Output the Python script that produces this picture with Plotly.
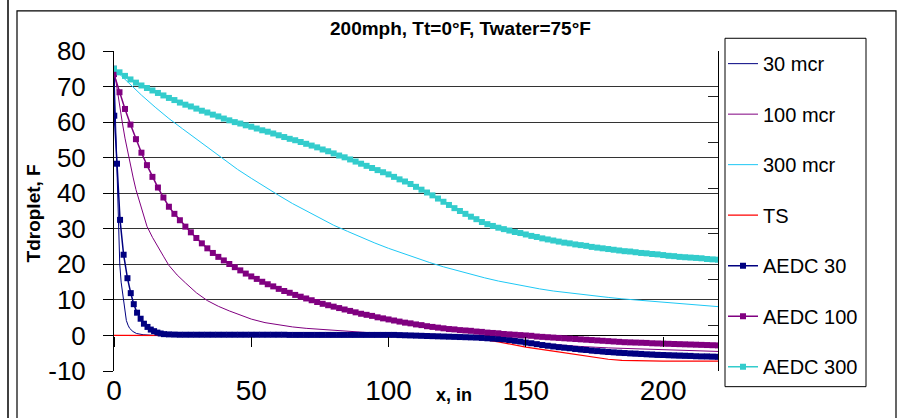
import plotly.graph_objects as go

# ---------------- data ----------------
SERIES_NAMES = ["30 mcr", "100 mcr", "300 mcr", "TS", "AEDC 30", "AEDC 100", "AEDC 300"]

x_30 = [0, 0.3, 0.5, 0.8, 1.1, 1.5, 2.1, 2.6, 3.3, 3.9, 4.5, 5.1, 5.7, 6.9, 8.2, 10.6, 14, 20,
        40, 60, 80, 100, 110, 120, 130, 140, 150, 160, 170, 180, 190, 200, 210, 220]
y_30 = [75, 67, 60, 50, 40, 30, 20, 15, 10.5, 6.5, 4.2, 2.9, 2.0, 1.1, 0.55, 0.2, 0.05, 0.0,
        0.0, 0.0, 0.0, 0.0, -0.1, -0.3, -0.7, -1.5, -2.6, -3.7, -4.6, -5.3, -5.8, -6.2, -6.4, -6.6]

x_100 = [0, 1, 2, 3, 4, 5, 6, 7, 8, 10, 12, 14, 16, 18, 20, 23, 26, 30, 34, 38, 42, 46, 50,
         55, 60, 65, 70, 75, 80, 85, 90, 95, 100, 110, 120, 130, 140, 150, 160, 170, 180,
         190, 200, 210, 220]
y_100 = [75, 69.5, 64.5, 60, 55.5, 51.5, 47.8, 44.3, 41, 35.5, 30.7, 27.6, 24.8, 22.3, 19.7,
         17.0, 14.8, 12.0, 9.8, 8.2, 6.9, 5.8, 4.6, 3.6, 2.9, 2.4, 2.0, 1.7, 1.4, 1.1, 0.8,
         0.6, 0.4, 0.05, -0.3, -0.8, -1.4, -2.0, -2.6, -3.1, -3.5, -3.8, -4.1, -4.3, -4.5]

x_300 = [0, 5, 10, 15, 20, 25, 30, 35, 40, 45, 50, 55, 60, 65, 70, 75, 80, 85, 90, 95, 100,
         105, 110, 115, 120, 125, 130, 135, 140, 145, 150, 155, 160, 165, 170, 175, 180, 185,
         190, 195, 200, 205, 210, 215, 220]
y_300 = [75, 71.2, 67.6, 64.2, 61, 58.1, 55.2, 52.3, 49.4, 46.7, 44.2, 41.7, 39.4, 37.1, 35,
         33, 31, 29.3, 27.6, 26.0, 24.5, 23.1, 21.8, 20.5, 19.3, 18.2, 17.2, 16.2, 15.3, 14.5,
         13.8, 13.1, 12.5, 12.0, 11.5, 11.1, 10.7, 10.3, 10.0, 9.7, 9.3, 9.0, 8.7, 8.4, 8.1]

x_ts = [0, 100, 110, 120, 130, 140, 150, 160, 170, 175, 180, 185, 190, 200, 210, 220]
y_ts = [0, 0, -0.1, -0.3, -0.6, -1.8, -3.3, -4.4, -5.5, -6.2, -6.7, -7.0, -7.1, -7.2, -7.2, -7.2]

# AEDC 30: early, individually read markers, then a 2-inch sampling from x=20
aedc30_x_early = [0, 0.1, 1.1, 2.2, 3.5, 4.9, 6.1, 7.2, 8.4, 9.7, 10.9, 12.2, 13.4, 14.6, 15.8, 17.0, 18.2]
aedc30_y_early = [75, 61.8, 48.3, 32.5, 22.7, 16.1, 11.9, 8.8, 6.4, 4.7, 3.3, 2.4, 1.65, 1.2, 0.8, 0.55, 0.37]
aedc30_y_late = [0.3, 0.25, 0.2, 0.2, 0.2, 0.2, 0.2, 0.2, 0.2, 0.2, 0.2, 0.2, 0.2, 0.2, 0.2, 0.2,
                 0.2, 0.2, 0.2, 0.2, 0.2, 0.2,
                 0.15, 0.15, 0.15, 0.15, 0.15, 0.15, 0.15, 0.15, 0.15, 0.15,
                 0.15, 0.15, 0.15, 0.15, 0.15, 0.15, 0.15, 0.15, 0.15, 0.15,
                 0.1, 0.05, 0.0, -0.05, -0.1, -0.15, -0.2, -0.25, -0.3, -0.35, -0.4, -0.45,
                 -0.5, -0.55, -0.6, -0.7, -0.8, -0.9, -1.0, -1.1, -1.3, -1.5, -1.7, -2.0,
                 -2.2, -2.45, -2.7, -2.9, -3.1, -3.3, -3.45, -3.6, -3.8, -3.95, -4.1, -4.25,
                 -4.4, -4.5, -4.65, -4.75, -4.85, -4.95, -5.05, -5.1, -5.2, -5.3, -5.35,
                 -5.45, -5.5, -5.55, -5.6, -5.65, -5.7, -5.75, -5.85, -5.9, -5.9, -5.95,
                 -6.0, -6.05]
aedc30_late_start, aedc_step = 20, 2

# AEDC 100 and AEDC 300: samples every 2 inches from x=0
aedc100_y = [73.5, 68.4, 63.7, 59.3, 55.2, 51.4, 47.9, 44.6, 41.6, 38.8, 36.2, 34.2, 32.4,
             30.6, 29.0, 27.4, 25.9, 24.5, 23.2, 22.1, 21.1, 20.1, 19.2, 18.3, 17.4, 16.6,
             15.9, 15.1, 14.4, 13.8, 13.1, 12.5, 12.0, 11.4, 10.9, 10.4, 9.9, 9.4, 8.9, 8.5,
             8.1, 7.7, 7.3, 6.9, 6.5, 6.1, 5.8, 5.5, 5.1, 4.8, 4.5, 4.2, 3.9, 3.6, 3.4, 3.1,
             2.9, 2.6, 2.4, 2.2, 2.0, 1.8, 1.7, 1.5, 1.4, 1.3, 1.1, 1.0, 0.8, 0.7, 0.6, 0.4,
             0.3, 0.2, 0.1, 0.0, -0.1, -0.3, -0.4, -0.5, -0.6, -0.7, -0.8, -0.9, -1.0, -1.1,
             -1.2, -1.3, -1.4, -1.5, -1.6, -1.7, -1.8, -1.9, -1.95, -2.0, -2.05, -2.1, -2.2,
             -2.25, -2.3, -2.35, -2.4, -2.45, -2.5, -2.55, -2.6, -2.65, -2.7, -2.75, -2.8]

aedc300_y = [75.0, 74.0, 73.0, 72.0, 71.1, 70.3, 69.6, 68.9, 68.2, 67.5, 66.8, 66.2, 65.5,
             64.9, 64.4, 63.8, 63.2, 62.7, 62.1, 61.6, 61.0, 60.5, 60.0, 59.6, 59.1, 58.7,
             58.2, 57.7, 57.3, 56.8, 56.3, 55.8, 55.3, 54.9, 54.4, 53.9, 53.4, 52.9, 52.3,
             51.8, 51.2, 50.6, 50.1, 49.5, 48.9, 48.3, 47.7, 47.1, 46.5, 45.9, 45.3, 44.6,
             43.9, 43.3, 42.6, 41.8, 41.0, 40.2, 39.4, 38.5, 37.6, 36.7, 35.8, 35.0, 34.2,
             33.4, 32.7, 31.9, 31.3, 30.8, 30.3, 29.9, 29.5, 29.1, 28.8, 28.4, 28.0, 27.7,
             27.3, 27.0, 26.7, 26.4, 26.1, 25.9, 25.6, 25.4, 25.2, 24.9, 24.7, 24.5, 24.3,
             24.1, 23.9, 23.7, 23.6, 23.4, 23.2, 23.1, 22.9, 22.8, 22.6, 22.4, 22.3, 22.1,
             22.0, 21.9, 21.8, 21.7, 21.5, 21.4, 21.3]

Y_TICK_LABELS = ["-10", "0", "10", "20", "30", "40", "50", "60", "70", "80"]
X_TICK_LABELS = ["0", "50", "100", "150", "200"]

TITLE = "200mph, Tt=0°F, Twater=75°F"
Y_TITLE = "Tdroplet, F"
X_TITLE = "x, in"

# ---------------- derived sample positions ----------------
aedc30_x = aedc30_x_early + [aedc30_late_start + aedc_step * i for i in range(len(aedc30_y_late))]
aedc30_y = aedc30_y_early + aedc30_y_late
aedc100_x = [aedc_step * i for i in range(len(aedc100_y))]
aedc300_x = [aedc_step * i for i in range(len(aedc300_y))]

# ---------------- layout geometry ----------------
W, H = 903, 418
L, R, T, B = 114, 185, 51, 40
PW, PH = W - L - R, H - T - B
FONT = "Liberation Sans, Arial, sans-serif"


def fx(p):
    return (p - L) / PW


def fy(p):
    return (H - B - p) / PH


NAVY, PURPLE, CYAN, RED, TURQ = "#000080", "#800080", "#1ec8f5", "#ff0000", "#33cccc"

fig = go.Figure()
thin = dict(mode="lines")
fig.add_trace(go.Scatter(x=x_30, y=y_30, name=SERIES_NAMES[0], line=dict(color=NAVY, width=1), **thin))
fig.add_trace(go.Scatter(x=x_100, y=y_100, name=SERIES_NAMES[1], line=dict(color=PURPLE, width=1), **thin))
fig.add_trace(go.Scatter(x=x_300, y=y_300, name=SERIES_NAMES[2], line=dict(color=CYAN, width=1), **thin))
fig.add_trace(go.Scatter(x=x_ts, y=y_ts, name=SERIES_NAMES[3], line=dict(color=RED, width=1.2), **thin))
for xs, ys, nm, col in [(aedc30_x, aedc30_y, SERIES_NAMES[4], NAVY),
                        (aedc100_x, aedc100_y, SERIES_NAMES[5], PURPLE),
                        (aedc300_x, aedc300_y, SERIES_NAMES[6], TURQ)]:
    fig.add_trace(go.Scatter(x=xs, y=ys, name=nm, mode="lines+markers",
                             line=dict(color=col, width=1.5),
                             marker=dict(symbol="square", size=6, color=col, line=dict(width=0))))

for i, tr in enumerate(fig.data):
    tr.legendgroup = "g%d" % i

# empty trace that carries the secondary axes (tick marks at y=0, right-side tick axis)
fig.add_trace(go.Scatter(x=[], y=[], xaxis="x2", yaxis="y2", showlegend=False, hoverinfo="skip"))

fig.update_layout(
    width=W, height=H,
    margin=dict(l=L, r=R, t=T, b=B, pad=0),
    paper_bgcolor="white", plot_bgcolor="white",
    font=dict(family=FONT, color="black"),
    showlegend=True,
    legend=dict(x=fx(723), y=fy(44), xanchor="left", yanchor="top",
                bgcolor="rgba(0,0,0,0)", borderwidth=0, maxheight=400,
                font=dict(size=20, family=FONT), tracegroupgap=21.5, itemwidth=30),
    xaxis=dict(range=[0, 220], tickvals=[0, 50, 100, 150, 200], ticktext=X_TICK_LABELS,
               showgrid=False, showline=False, zeroline=False, ticks="",
               tickfont=dict(size=28, family=FONT)),
    yaxis=dict(range=[-10, 80], tickvals=[-10, 0, 10, 20, 30, 40, 50, 60, 70, 80],
               ticktext=Y_TICK_LABELS, showgrid=True, gridcolor="#333333", gridwidth=1,
               showline=True, linecolor="black", linewidth=1,
               zeroline=True, zerolinecolor="black", zerolinewidth=1,
               ticks="outside", ticklen=10, tickcolor="black",
               tickfont=dict(size=26, family=FONT), ticklabelstandoff=12),
    xaxis2=dict(overlaying="x", anchor="free", position=fy(342.3), range=[0, 220],
                tickvals=[0, 50, 100, 150, 200], ticks="outside", ticklen=10, tickcolor="black",
                showticklabels=False, showline=False, showgrid=False, zeroline=False),
    yaxis2=dict(overlaying="y", side="right", anchor="x", range=[0, 7],
                tickvals=[0, 1, 2, 3, 4, 5, 6, 7], ticks="inside", ticklen=10,
                tickcolor="#222222", showticklabels=False, showline=True, linecolor="black",
                showgrid=False, zeroline=False),
    annotations=[
        dict(text="<b>%s</b>" % TITLE, xref="paper", yref="paper", x=fx(460), y=fy(28),
             showarrow=False, xanchor="center", yanchor="middle", font=dict(size=19)),
        dict(text="<b>%s</b>" % Y_TITLE, xref="paper", yref="paper", x=fx(33), y=fy(217),
             textangle=-90, showarrow=False, xanchor="center", yanchor="middle",
             font=dict(size=19)),
        dict(text="<b>%s</b>" % X_TITLE, xref="paper", yref="paper", x=fx(454), y=fy(403),
             showarrow=False, xanchor="center", yanchor="middle", font=dict(size=18)),
    ],
    shapes=[
        dict(type="rect", xref="paper", yref="paper", x0=fx(17), x1=fx(896), y0=fy(430), y1=fy(10),
             line=dict(color="black", width=1.2), fillcolor="rgba(0,0,0,0)", layer="below"),
        dict(type="line", xref="paper", yref="paper", x0=fx(8), x1=fx(8), y0=fy(-5), y1=fy(430),
             line=dict(color="black", width=1.5)),
        dict(type="rect", xref="paper", yref="paper", x0=fx(725), x1=fx(866), y0=fy(394), y1=fy(38),
             line=dict(color="black", width=1), fillcolor="white", layer="below"),
    ],
)

fig.write_html("out.html")
